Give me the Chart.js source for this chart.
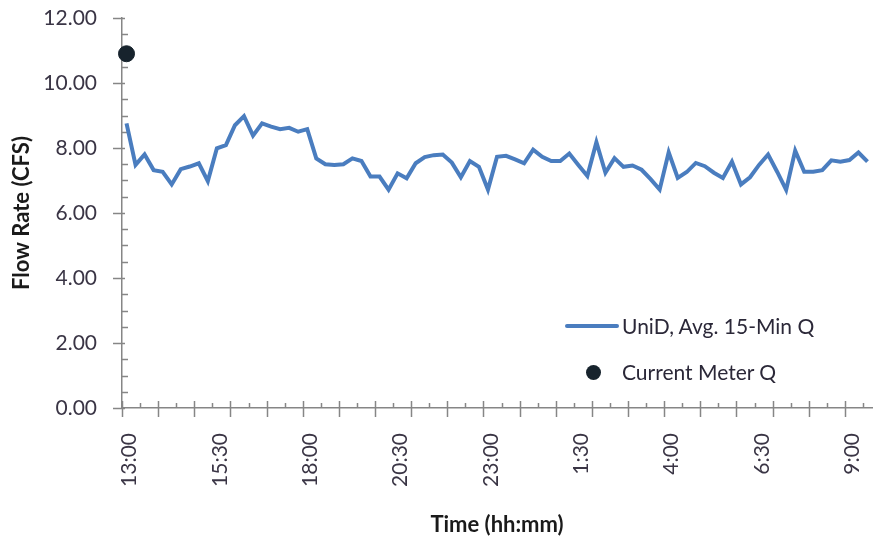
<!DOCTYPE html>
<html>
<head>
<meta charset="utf-8">
<script src="https://cdn.jsdelivr.net/npm/chart.js@4"></script>
<style>
  html, body { margin: 0; padding: 0; background: #fff; overflow: hidden; }
  #wrap { position: relative; width: 874px; height: 540px; overflow: hidden; }
  #chart { position: absolute; left: 0; top: 0; }
  .lg-text { position: absolute; font-family: Lato, sans-serif; font-size: 21px; line-height: 24px; color: #2b2838; white-space: nowrap; }
  .lg-line { position: absolute; left: 565px; top: 324px; width: 54px; height: 4px; background: #4a7dbf; border-radius: 2px; }
  .lg-dot { position: absolute; left: 586px; top: 365px; width: 15px; height: 15px; border-radius: 50%; background: #17232d; }
</style>
</head>
<body>
<div id="wrap">
  <canvas id="chart" width="881" height="540"></canvas>
  <div class="lg-line"></div>
  <div class="lg-text" style="left:622px; top:314px;">UniD, Avg. 15-Min Q</div>
  <div class="lg-dot"></div>
  <div class="lg-text" style="left:622px; top:360px;">Current Meter Q</div>
</div>
<script>
// 15-minute average flow (CFS), starting 13:00
const flowValues = [
  8.76, 7.48, 7.80, 7.32, 7.27, 6.88, 7.35, 7.43, 7.53, 6.98,
  7.99, 8.09, 8.70, 8.98, 8.38, 8.76, 8.66, 8.58, 8.62, 8.50,
  8.58, 7.68, 7.50, 7.48, 7.50, 7.68, 7.60, 7.12, 7.12, 6.72,
  7.22, 7.07, 7.53, 7.72, 7.78, 7.80, 7.55, 7.10, 7.60, 7.42,
  6.72, 7.73, 7.76, 7.65, 7.53, 7.95, 7.73, 7.60, 7.60, 7.83,
  7.48, 7.14, 8.18, 7.24, 7.69, 7.42, 7.46, 7.33, 7.04, 6.72,
  7.87, 7.08, 7.26, 7.54, 7.44, 7.24, 7.08, 7.58, 6.88, 7.10,
  7.48, 7.80, 7.27, 6.71, 7.92, 7.27, 7.27, 7.32, 7.62, 7.58,
  7.63, 7.86, 7.58
];
const meterTimes = ['13:00'];
const meterValues = [10.9];
const shownTimes = ['13:00', '15:30', '18:00', '20:30', '23:00', '1:30', '4:00', '6:30', '9:00'];

// category labels: 15-minute steps from 13:00
const categories = [];
for (let i = 0; i < flowValues.length; i++) {
  const m = 13 * 60 + i * 15;
  const h = Math.floor(m / 60) % 24;
  const mm = m % 60;
  categories.push(h + ':' + (mm < 10 ? '0' : '') + mm);
}

const axisColor = '#868686';

const tickMarks = {
  id: 'tickMarks',
  beforeDatasetsDraw(chart) {
    const ctx = chart.ctx;
    const x = chart.scales.x, y = chart.scales.y;
    ctx.save();
    ctx.strokeStyle = axisColor;
    ctx.lineWidth = 1.5;
    ctx.beginPath();
    for (let v = 0; v <= 12; v += 0.5) {
      const py = Math.round(y.getPixelForValue(v)) + 0.5;
      if (v % 2 === 0) { ctx.moveTo(x.left - 9, py); ctx.lineTo(x.left + 3, py); }
      else { ctx.moveTo(x.left, py); ctx.lineTo(x.left + 6, py); }
    }
    const half = (x.getPixelForValue(1) - x.getPixelForValue(0)) / 2;
    for (let i = 0; i <= categories.length; i += 2) {
      const px = Math.round(x.getPixelForValue(i) - half) + 0.5;
      if (px > x.right + 1) break;
      if (i % 4 === 0) { ctx.moveTo(px, y.bottom - 7); ctx.lineTo(px, y.bottom + 9); }
      else { ctx.moveTo(px, y.bottom - 5); ctx.lineTo(px, y.bottom); }
    }
    ctx.stroke();
    ctx.restore();
  }
};

new Chart(document.getElementById('chart'), {
  type: 'line',
  data: {
    labels: categories,
    datasets: [{
      label: 'UniD, Avg. 15-Min Q',
      data: flowValues,
      borderColor: '#4a7dbf',
      borderWidth: 4,
      pointRadius: 0,
      tension: 0,
      clip: false
    }, {
      label: 'Current Meter Q',
      data: meterTimes.map((t, i) => ({ x: t, y: meterValues[i] })),
      showLine: false,
      pointRadius: 8,
      pointBackgroundColor: '#17232d',
      pointBorderColor: '#17232d',
      clip: false
    }]
  },
  options: {
    responsive: false,
    animation: false,
    layout: { padding: { left: 0, top: 18, right: 0, bottom: 0 } },
    plugins: { legend: { display: false }, tooltip: { enabled: false } },
    scales: {
      x: {
        offset: true,
        grid: { display: true, drawOnChartArea: false, drawTicks: false, offset: true, color: 'rgba(0,0,0,0)' },
        border: { display: true, color: axisColor, width: 1.5 },
        ticks: {
          autoSkip: false,
          minRotation: 90,
          maxRotation: 90,
          padding: 25,
          labelOffset: 3,
          color: '#3a3545',
          font: { family: 'Lato', size: 21 },
          callback: function(val) {
            const lab = this.getLabelForValue(val);
            return shownTimes.includes(lab) ? lab : '';
          }
        },
        title: {
          display: true,
          text: 'Time (hh:mm)',
          color: '#1a1a1a',
          font: { family: 'Lato', size: 22, weight: 'bold' },
          padding: { top: 0, bottom: 2 }
        },
        afterFit(scale) {
          scale.height = 132;
          scale.paddingLeft = 0;
          scale.paddingRight = 0;
        }
      },
      y: {
        min: 0,
        max: 12,
        grid: { display: true, drawOnChartArea: false, drawTicks: false, color: 'rgba(0,0,0,0)' },
        border: { display: true, color: axisColor, width: 1.5 },
        ticks: {
          stepSize: 2,
          padding: 25,
          color: '#3a3545',
          font: { family: 'Lato', size: 21 },
          callback: v => v.toFixed(2)
        },
        title: {
          display: true,
          text: 'Flow Rate (CFS)',
          color: '#1a1a1a',
          font: { family: 'Lato', size: 22, weight: 'bold' },
          padding: { top: 9, bottom: 0 }
        },
        afterFit(scale) {
          scale.width = 122;
          scale.paddingTop = 0;
          scale.paddingBottom = 0;
        }
      }
    }
  },
  plugins: [tickMarks]
});
</script>
</body>
</html>
